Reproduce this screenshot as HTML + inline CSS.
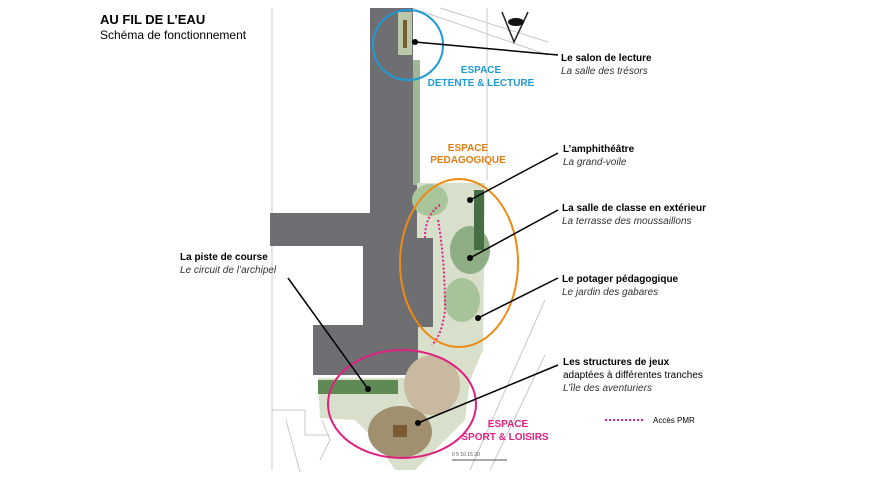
<!DOCTYPE html>
<html><head><meta charset="utf-8"><style>
body{margin:0;background:#fff;}
svg{display:block;font-family:"Liberation Sans",Arial,sans-serif;}
</style></head><body>
<svg width="870" height="480" viewBox="0 0 870 480" xmlns="http://www.w3.org/2000/svg">
<rect width="870" height="480" fill="#fff"/>
<!-- site lines -->
<g stroke="#c8c8c8" stroke-width="1" fill="none">
<line x1="272" y1="8" x2="272" y2="470"/>
<line x1="487" y1="8" x2="487" y2="180"/>
<line x1="412" y1="8" x2="548" y2="55"/>
<line x1="440" y1="8" x2="548" y2="42"/>
<line x1="286" y1="420" x2="300" y2="472"/>
<line x1="545" y1="300" x2="470" y2="470"/>
<line x1="545" y1="355" x2="490" y2="470"/>
<polyline points="272,410 305,410 305,435 330,435"/>
<polyline points="322,420 330,440 320,460"/>
</g>
<!-- building -->
<path d="M370,8 L413,8 L413,60 L417,60 L417,238 L433,238 L433,327 L418,327 L418,375 L313,375 L313,325 L363,325 L363,246 L270,246 L270,213 L370,213 Z" fill="#6e6e73"/>
<!-- gardens -->
<path d="M398,12 L412,12 L412,55 L398,55 Z" fill="#b8c8a8"/>
<rect x="403" y="20" width="4" height="28" fill="#7a5a30"/>
<rect x="413" y="60" width="7" height="125" fill="#9fb894"/>
<path d="M417,183 L485,183 L483,350 L470,380 L465,420 L415,470 L395,470 L375,440 L355,420 L320,418 L318,378 L418,378 L418,327 L433,327 L433,238 L417,238 Z" fill="#d8e0cc"/>
<ellipse cx="430" cy="200" rx="18" ry="16" fill="#a9c59a"/>
<ellipse cx="470" cy="250" rx="20" ry="24" fill="#8fae85"/>
<ellipse cx="462" cy="300" rx="18" ry="22" fill="#a7c39a"/>
<ellipse cx="432" cy="385" rx="28" ry="30" fill="#c9b9a0"/>
<ellipse cx="400" cy="432" rx="32" ry="26" fill="#a09070"/>
<rect x="393" y="425" width="14" height="12" fill="#7a5a30"/>
<rect x="318" y="380" width="80" height="14" fill="#5f8a55"/>
<rect x="474" y="190" width="10" height="60" fill="#456e45"/>
<!-- PMR arrows -->
<g stroke="#e0208a" stroke-width="2" stroke-dasharray="2,2" fill="none">
<path d="M440,205 Q425,215 425,238"/>
<path d="M438,220 Q445,260 445,310 Q442,335 432,345"/>
<line x1="605" y1="420" x2="645" y2="420"/>
</g>
<!-- ellipses -->
<circle cx="408" cy="45" r="35" fill="none" stroke="#1e9ad6" stroke-width="2"/>
<ellipse cx="459" cy="263" rx="59" ry="84" fill="none" stroke="#ee8a14" stroke-width="2"/>
<ellipse cx="402" cy="404" rx="74" ry="54" fill="none" stroke="#e0207f" stroke-width="2"/>
<!-- eye symbol -->
<g stroke="#222" stroke-width="1.5" fill="none"><polyline points="502,12 514,42 528,12"/></g>
<ellipse cx="516" cy="22" rx="8" ry="4" fill="#111"/>
<!-- leader lines -->
<g stroke="#000" stroke-width="1.5">
<line x1="415" y1="42" x2="558" y2="55"/>
<line x1="470" y1="200" x2="558" y2="153"/>
<line x1="470" y1="258" x2="558" y2="210"/>
<line x1="478" y1="318" x2="558" y2="278"/>
<line x1="288" y1="278" x2="368" y2="389"/>
<line x1="418" y1="423" x2="558" y2="365"/>
</g>
<g fill="#000"><circle cx="415" cy="42" r="3"/><circle cx="470" cy="200" r="3"/><circle cx="470" cy="258" r="3"/><circle cx="478" cy="318" r="3"/><circle cx="368" cy="389" r="3"/><circle cx="418" cy="423" r="3"/></g>
<!-- titles -->
<text x="100" y="24" font-size="13" font-weight="bold">AU FIL DE L’EAU</text>
<text x="100" y="39" font-size="12">Schéma de fonctionnement</text>
<text x="481" y="73" font-size="10" font-weight="bold" fill="#1e9ad6" text-anchor="middle">ESPACE</text>
<text x="481" y="86" font-size="10" font-weight="bold" fill="#1e9ad6" text-anchor="middle">DETENTE &amp; LECTURE</text>
<text x="468" y="151" font-size="10" font-weight="bold" fill="#e07d12" text-anchor="middle">ESPACE</text>
<text x="468" y="163" font-size="10" font-weight="bold" fill="#e07d12" text-anchor="middle">PEDAGOGIQUE</text>
<text x="508" y="427" font-size="10" font-weight="bold" fill="#e0207f" text-anchor="middle">ESPACE</text>
<text x="505" y="440" font-size="10" font-weight="bold" fill="#e0207f" text-anchor="middle">SPORT &amp; LOISIRS</text>
<g font-size="10">
<text x="561" y="61" font-weight="bold">Le salon de lecture</text>
<text x="561" y="74" font-style="italic" fill="#333">La salle des trésors</text>
<text x="563" y="152" font-weight="bold">L’amphithéâtre</text>
<text x="563" y="165" font-style="italic" fill="#333">La grand-voile</text>
<text x="562" y="211" font-weight="bold">La salle de classe en extérieur</text>
<text x="562" y="224" font-style="italic" fill="#333">La terrasse des moussaillons</text>
<text x="562" y="282" font-weight="bold">Le potager pédagogique</text>
<text x="562" y="295" font-style="italic" fill="#333">Le jardin des gabares</text>
<text x="563" y="365" font-weight="bold">Les structures de jeux</text>
<text x="563" y="378">adaptées à différentes tranches</text>
<text x="563" y="391" font-style="italic" fill="#333">L’île des aventuriers</text>
<text x="180" y="260" font-weight="bold">La piste de course</text>
<text x="180" y="273" font-style="italic" fill="#333">Le circuit de l’archipel</text>
</g>
<text x="653" y="423" font-size="8">Accès PMR</text>
<g stroke="#555" stroke-width="1"><line x1="452" y1="460" x2="507" y2="460"/></g>
<text x="452" y="456" font-size="5" fill="#555">0 5 10 15 20</text>
</svg>
</body></html>
